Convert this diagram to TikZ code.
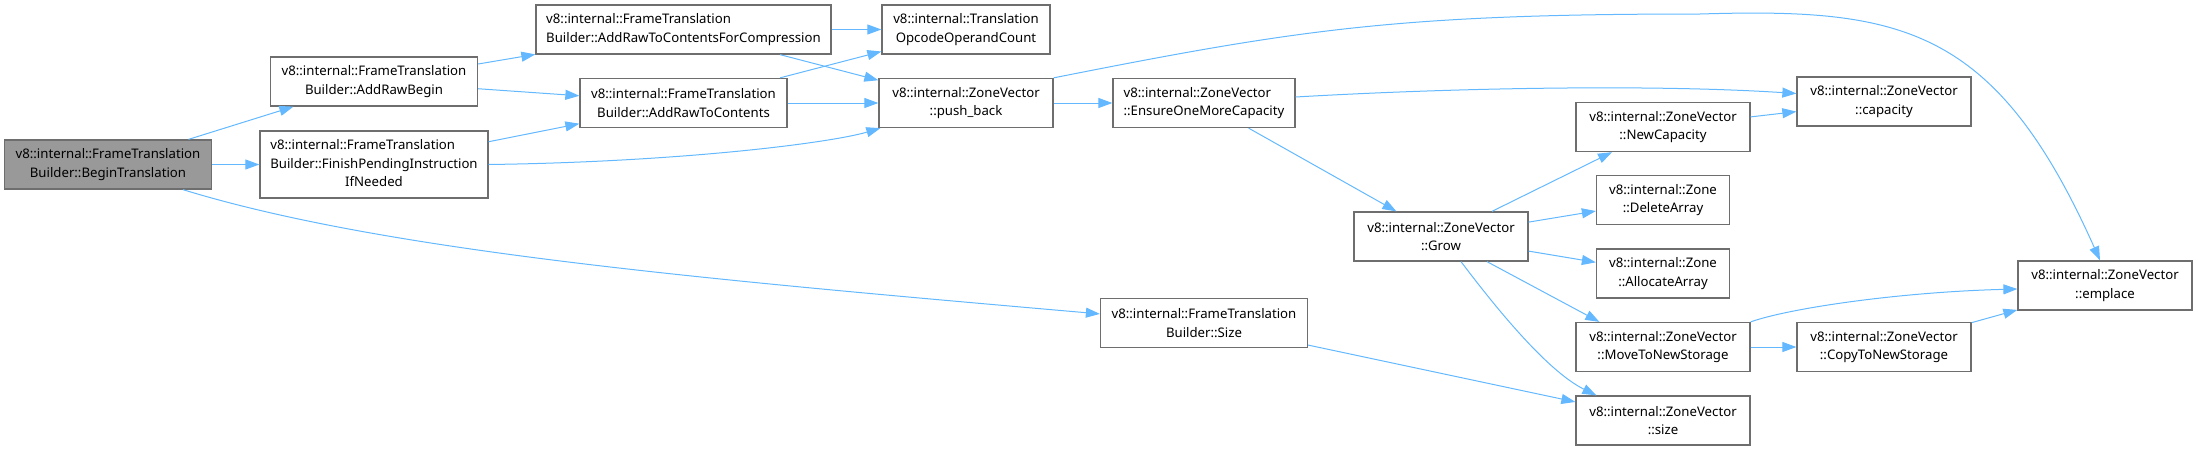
\documentclass[tikz,border=0pt]{standalone}
\usepackage{fontspec}
\setmainfont{Noto Sans}
\usepackage{tikz}
\usetikzlibrary{positioning,calc,arrows.meta}
\definecolor{edgeblue}{RGB}{99,184,255}
\definecolor{boxgray}{RGB}{110,110,110}
\definecolor{rootgray}{RGB}{153,153,153}
\tikzset{>={Triangle[length=7pt,width=5pt]}}
\tikzset{
  fn/.style={draw=boxgray,line width=0.65pt,fill=white,minimum height=24.5pt,inner sep=2pt,align=center,font=\fontsize{6.6pt}{9.35pt}\selectfont},
  ftb/.style={fn,minimum width=103.5pt},
  zv/.style={fn,minimum width=87pt},
  zn/.style={fn,minimum width=66.5pt},
  edge/.style={->,draw=edgeblue,line width=0.5pt}
}

\begin{document}
\begin{tikzpicture}[x=0.5pt,y=-0.5pt]
  \useasboundingbox (0,0) rectangle (2198,450);
  \node [ftb,fill=rootgray] (BT) at (108,164.5) {v8::internal::FrameTranslation\\Builder::BeginTranslation};
  \node [ftb] (ARB) at (374,81.5) {v8::internal::FrameTranslation\\Builder::AddRawBegin};
  \node [fn,minimum width=114pt,minimum height=33.5pt] (FP) at (374,164.5) {\begin{tabular}{@{}l@{}}v8::internal::FrameTranslation\\Builder::FinishPendingInstruction\\\multicolumn{1}{@{}c@{}}{IfNeeded}\end{tabular}};
  \node [ftb,align=left,minimum width=147.5pt] (ARTCC) at (683.5,29.5) {v8::internal::FrameTranslation\\Builder::AddRawToContentsForCompression};
  \node [fn,minimum width=84pt] (TOC) at (966,29.5) {v8::internal::Translation\\OpcodeOperandCount};
  \node [ftb] (ARTC) at (683.5,103) {v8::internal::FrameTranslation\\Builder::AddRawToContents};
  \node [zv] (PB) at (966,103) {v8::internal::ZoneVector\\::push\_back};
  \node [zv,align=left,minimum width=91pt] (EOMC) at (1204,103) {v8::internal::ZoneVector\\::EnsureOneMoreCapacity};
  \node [ftb] (BS) at (1204,323) {v8::internal::FrameTranslation\\Builder::Size};
  \node [zv] (GR) at (1441,236.5) {v8::internal::ZoneVector\\::Grow};
  \node [zv] (NC) at (1663,127) {v8::internal::ZoneVector\\::NewCapacity};
  \node [zv] (CAP) at (1884,101.5) {v8::internal::ZoneVector\\::capacity};
  \node [zn] (DA) at (1663,200) {v8::internal::Zone\\::DeleteArray};
  \node [zn] (AA) at (1663,273.5) {v8::internal::Zone\\::AllocateArray};
  \node [zv] (MS) at (1663,347) {v8::internal::ZoneVector\\::MoveToNewStorage};
  \node [zv] (SZ) at (1663,420.5) {v8::internal::ZoneVector\\::size};
  \node [zv] (CS) at (1884,347) {v8::internal::ZoneVector\\::CopyToNewStorage};
  \node [zv] (EM) at (2105,285.5) {v8::internal::ZoneVector\\::emplace};
  % calls
  \draw [edge] (BT) -- (ARB);
  \draw [edge] (BT) -- (FP);
  \draw [edge] ([xshift=37.5pt]BT.south) .. controls (383,251) and (700,279) .. (BS);
  \draw [edge] (ARB) -- (ARTCC);
  \draw [edge] (ARB) -- (ARTC);
  \draw [edge] (FP) -- (ARTC);
  \draw [edge] (FP.east) .. controls (680,162) and (830,143) .. ([xshift=1pt]PB.south west);
  \draw [edge] (ARTCC) -- (TOC);
  \draw [edge] (ARTCC) -- (PB);
  \draw [edge] (ARTC) -- (TOC);
  \draw [edge] (ARTC) -- (PB);
  \draw [edge] (PB) -- (EOMC);
  \draw [edge] (PB.north east) .. controls (1300,29) and (1400,14) .. (1700,14) .. controls (1900,8) and (1995,25) .. ([xshift=-2.5pt]EM.north);
  \draw [edge] ([yshift=3pt]EOMC.east) .. controls (1450,88) and (1650,84) .. ([yshift=4pt]CAP.west);
  \draw [edge] (EOMC) -- (GR);
  \draw [edge] (GR) -- (NC);
  \draw [edge] (GR) -- (DA);
  \draw [edge] (GR) -- (AA);
  \draw [edge] ([xshift=23pt]GR.south) -- ([xshift=12pt]MS.north west);
  \draw [edge] ([xshift=10pt]GR.south) .. controls (1490,300) and (1545,370) .. ([xshift=10.5pt]SZ.north west);
  \draw [edge] (NC) -- (CAP);
  \draw [edge] (MS.north east) .. controls (1790,308) and (1900,292) .. ([yshift=-1.75pt]EM.west);
  \draw [edge] (MS) -- (CS);
  \draw [edge] (CS) -- (EM);
  \draw [edge] (BS) -- (SZ);
\end{tikzpicture}
\end{document}
